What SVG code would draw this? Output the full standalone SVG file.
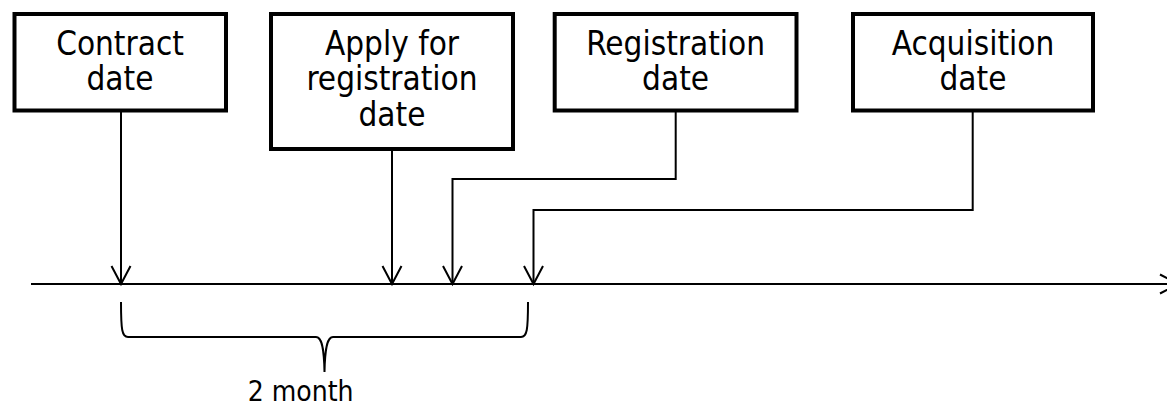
<svg xmlns="http://www.w3.org/2000/svg" width="1167" height="408" viewBox="0 0 1167 408">
<style>
.box{fill:#fff;stroke:#000;stroke-width:4}
.lbl{font-family:"DejaVu Sans Condensed","DejaVu Sans",sans-serif;font-size:33px;fill:#000;text-anchor:middle}
.con{fill:none;stroke:#000;stroke-width:2}
.note{font-family:"DejaVu Sans Condensed","DejaVu Sans",sans-serif;font-size:28px;fill:#000}
</style>
<defs>
<marker id="arr" markerUnits="userSpaceOnUse" viewBox="-20 -11 22 22" refX="0" refY="0" markerWidth="22" markerHeight="22" orient="auto" overflow="visible">
<path d="M-18,-9.5 L0,0 L-18,9.5" fill="none" stroke="#000" stroke-width="2"/>
</marker>
</defs>
<g id="connectors">
<path class="con" d="M31,284 L1178,284" marker-end="url(#arr)"/>
<path class="con" d="M121,111 L121,284" marker-end="url(#arr)"/>
<path class="con" d="M392,150 L392,284" marker-end="url(#arr)"/>
<path class="con" d="M675.7,111 L675.7,179 L452.5,179 L452.5,284" marker-end="url(#arr)"/>
<path class="con" d="M972.7,111 L972.7,210 L533.5,210 L533.5,284" marker-end="url(#arr)"/>
<path class="con" d="M121,302 C121,330 122,337 128,337 L316,337 C321,337 324,345 324.5,372 C325,345 328,337 333,337 L521,337 C527,337 528,330 528,302"/>
</g>
<g id="contract">
<rect class="box" x="14.5" y="14" width="211.5" height="96.5"/>
<text class="lbl" x="120" y="54.5">Contract</text>
<text class="lbl" x="120" y="90">date</text>
</g>
<g id="apply">
<rect class="box" x="271" y="14" width="242" height="135"/>
<text class="lbl" x="392" y="54.5">Apply for</text>
<text class="lbl" x="392" y="90">registration</text>
<text class="lbl" x="392" y="125.5">date</text>
</g>
<g id="registration">
<rect class="box" x="554.7" y="14" width="241.8" height="96.5"/>
<text class="lbl" x="675.6" y="54.5">Registration</text>
<text class="lbl" x="675.6" y="90">date</text>
</g>
<g id="acquisition">
<rect class="box" x="853" y="14" width="240" height="96.5"/>
<text class="lbl" x="973" y="54.5">Acquisition</text>
<text class="lbl" x="973" y="90">date</text>
</g>
<g id="period">
<text class="note" x="247.7" y="401">2 month</text>
</g>
</svg>
